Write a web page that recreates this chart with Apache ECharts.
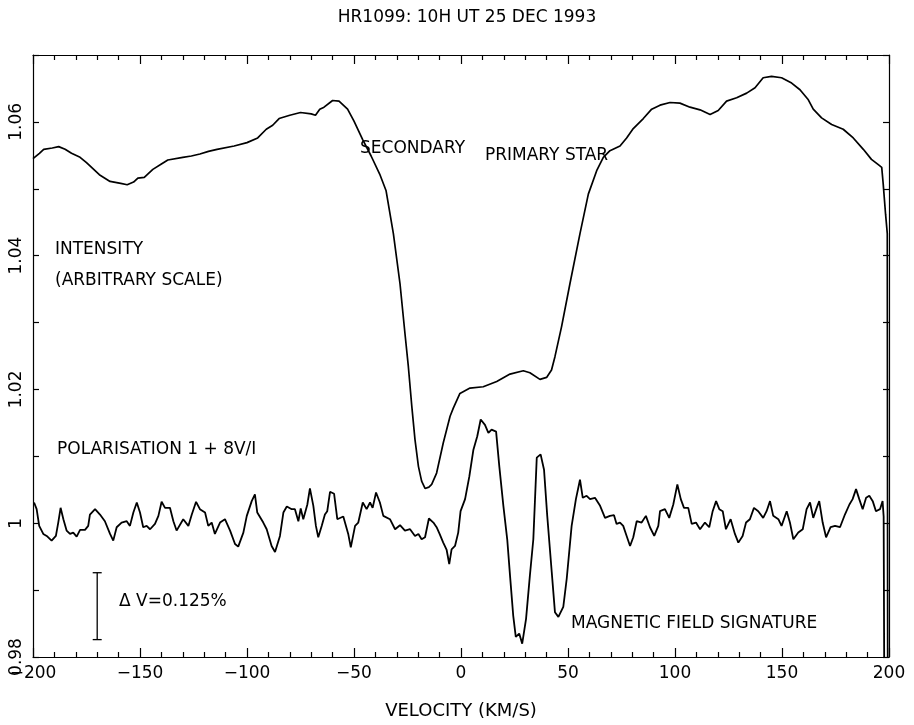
<!DOCTYPE html>
<html>
<head>
<meta charset="utf-8">
<script src="https://cdn.jsdelivr.net/npm/echarts@6/dist/echarts.min.js"></script>
<style>
  html, body { margin: 0; background: #fff; }
  #chart { width: 914px; height: 725px; }
</style>
</head>
<body>
<div id="chart"></div>
<script>
// intensity profile (arbitrary scale)
const intensityVel = [-200, -197, -195, -191, -188, -185, -182, -178, -175, -173, -169, -164, -159, -156, -153, -151, -148, -144, -140, -137,
  -130, -126, -122, -118, -114, -106, -100, -95, -91, -88, -85, -80, -75, -70, -68, -66, -64, -60, -57, -55,
  -53, -50, -46, -42, -38, -35, -31.6, -28.5, -26.2, -24.6, -23.0, -21.5, -19.9, -18.4, -16.8, -15, -13.7, -11.4, -8.3, -5.1,
  -3.6, -0.5, 4.2, 10.4, 16.7, 22.9, 29.1, 32.2, 36.9, 40.0, 42.3, 43.9, 47.0, 50.9, 55.6, 59.5, 63.4, 66.5, 69.6, 74.3,
  77.4, 80.5, 85.2, 89.1, 93.0, 97.7, 102.3, 107.0, 111.7, 116.4, 120.2, 124.1, 128.8, 133.5, 137.4, 141.2, 145.1, 149.8, 154.5, 158.4,
  162.3, 164.6, 168.5, 173.2, 178.6, 183.3, 188, 191.8, 195, 196.6, 197.3, 198.4, 199.2, 199.4];
const intensityVal = [1.0545, 1.0553, 1.0559, 1.0561, 1.0563, 1.0559, 1.0553, 1.0547, 1.0539, 1.0533, 1.0521, 1.0511, 1.0508, 1.0506, 1.0510, 1.0516, 1.0517, 1.0529, 1.0537, 1.0543,
  1.0547, 1.0549, 1.0552, 1.0556, 1.0559, 1.0564, 1.0569, 1.0576, 1.0589, 1.0595, 1.0605, 1.0610, 1.0614, 1.0612, 1.0610, 1.0619, 1.0622, 1.0632, 1.0631, 1.0625,
  1.0619, 1.0601, 1.0574, 1.0549, 1.0522, 1.0497, 1.0433, 1.0358, 1.0284, 1.0234, 1.0175, 1.0125, 1.0085, 1.0063, 1.0052, 1.0054, 1.0058, 1.0075, 1.0120, 1.0160,
  1.0172, 1.0194, 1.0202, 1.0204, 1.0212, 1.0223, 1.0228, 1.0225, 1.0215, 1.0218, 1.0229, 1.0249, 1.0294, 1.0358, 1.0433, 1.0492, 1.0527, 1.0547, 1.0557, 1.0564,
  1.0576, 1.0590, 1.0605, 1.0619, 1.0625, 1.0629, 1.0628, 1.0622, 1.0618, 1.0611, 1.0617, 1.0631, 1.0636, 1.0643, 1.0651, 1.0666, 1.0668, 1.0666, 1.0658, 1.0648,
  1.0633, 1.0619, 1.0606, 1.0596, 1.0589, 1.0576, 1.0559, 1.0544, 1.0536, 1.0532, 1.0507, 1.0462, 1.0433, 0.9750];

// polarisation 1 + 8V/I
const polarVel = [-199.5, -198.3, -197.1, -195.2, -193.6, -191.3, -189.3, -188.2, -187.1, -185.8, -184.3, -182.7, -181.2, -179.6, -178, -175.7, -174.2, -173.4, -171, -168.7,
  -166.4, -164, -162.5, -160.9, -158.6, -156.2, -154.7, -153.1, -151.5, -150, -148.5, -146.9, -145.3, -143, -141.4, -139.9, -138.3, -136, -134.4, -132.9,
  -129.8, -127.4, -125.8, -123.8, -122, -119.6, -118.1, -116.5, -115, -112.6, -110.3, -107.9, -105.6, -104.1, -101.7, -100.1, -97.8, -96.3, -95.2, -92.4,
  -90.8, -88.5, -86.9, -84.6, -83.0, -81.4, -79.1, -77.6, -76.0, -74.9, -73.7, -71.8, -70.6, -69.0, -67.8, -66.7, -65.1, -63.6, -62.5, -61.2,
  -59.3, -57.8, -55.0, -52.7, -51.5, -49.5, -48.0, -45.9, -44.1, -42.5, -41.3, -39.7, -37.9, -36.3, -33.2, -30.8, -28.5, -26.2, -23.8, -21.5,
  -19.9, -18.4, -16.8, -15.0, -12.9, -11.4, -10.0, -8.3, -6.7, -5.5, -4.4, -2.8, -1.3, -0.2, 1.9, 3.9, 5.8, 7.6, 9.2, 11.2,
  12.8, 14.3, 16.4, 17.9, 19.8, 21.6, 22.9, 24.4, 25.6, 27.2, 28.6, 30.4, 32.2, 33.8, 35.4, 37.2, 38.8, 40.3, 42.4, 43.9,
  45.5, 47.8, 49.4, 51.7, 53.7, 55.6, 56.9, 58.7, 60.3, 62.6, 65.0, 67.3, 69.6, 71.5, 72.7, 74.3, 75.8, 77.4, 79.0, 80.5,
  82.1, 84.4, 86.4, 88.3, 90.3, 92.2, 93.0, 95.3, 97.3, 99.2, 101.1, 102.7, 104.2, 106.2, 107.8, 109.8, 111.7, 114.0, 116.0, 117.6,
  119.2, 120.7, 122.3, 123.8, 126.0, 128.0, 129.6, 131.6, 133.2, 135.0, 136.9, 138.9, 141.2, 142.8, 144.4, 145.9, 148.3, 149.8, 152.2, 153.7,
  155.3, 157.6, 159.7, 161.5, 163.1, 164.6, 166.2, 167.4, 169.0, 170.6, 172.7, 174.8, 177.1, 179.4, 181.5, 183.0, 184.6, 186.1, 187.7, 189.3,
  190.8, 192.4, 193.9, 195.8, 197.0, 197.5, 197.8];
const polarVal = [1.0031, 1.0021, 0.9996, 0.9984, 0.9981, 0.9974, 0.9981, 1.0001, 1.0023, 1.0006, 0.9989, 0.9984, 0.9986, 0.9980, 0.9990, 0.9990, 0.9996, 1.0013, 1.0021, 1.0013,
  1.0003, 0.9984, 0.9974, 0.9994, 1.0001, 1.0003, 0.9996, 1.0016, 1.0031, 1.0016, 0.9994, 0.9996, 0.9991, 0.9999, 1.0011, 1.0032, 1.0023, 1.0023, 1.0003, 0.9989,
  1.0006, 0.9996, 1.0013, 1.0032, 1.0021, 1.0016, 0.9996, 1.0001, 0.9984, 1.0001, 1.0006, 0.9989, 0.9969, 0.9965, 0.9986, 1.0011, 1.0033, 1.0043, 1.0016, 1.0001,
  0.9991, 0.9966, 0.9957, 0.9981, 1.0016, 1.0025, 1.0021, 1.0021, 1.0003, 1.0022, 1.0006, 1.0028, 1.0052, 1.0026, 0.9996, 0.9979, 0.9996, 1.0013, 1.0018, 1.0047,
  1.0044, 1.0006, 1.0010, 0.9984, 0.9964, 0.9996, 1.0001, 1.0031, 1.0021, 1.0031, 1.0023, 1.0046, 1.0031, 1.0011, 1.0006, 0.9991, 0.9997, 0.9989, 0.9991, 0.9981,
  0.9984, 0.9976, 0.9979, 1.0007, 1.0001, 0.9994, 0.9984, 0.9971, 0.9960, 0.9939, 0.9961, 0.9966, 0.9986, 1.0018, 1.0036, 1.0070, 1.0110, 1.0130, 1.0155, 1.0147,
  1.0135, 1.0140, 1.0137, 1.0085, 1.0026, 0.9976, 0.9922, 0.9862, 0.9830, 0.9835, 0.9820, 0.9857, 0.9922, 0.9976, 1.0098, 1.0103, 1.0080, 1.0011, 0.9927, 0.9867,
  0.9860, 0.9875, 0.9917, 0.9996, 1.0036, 1.0065, 1.0038, 1.0041, 1.0036, 1.0038, 1.0026, 1.0008, 1.0011, 1.0012, 0.9999, 1.0001, 0.9996, 0.9981, 0.9966, 0.9979,
  1.0003, 1.0001, 1.0011, 0.9994, 0.9981, 0.9996, 1.0018, 1.0021, 1.0008, 1.0028, 1.0058, 1.0036, 1.0023, 1.0023, 0.9999, 1.0001, 0.9991, 1.0001, 0.9994, 1.0018,
  1.0033, 1.0021, 1.0018, 0.9991, 1.0006, 0.9984, 0.9971, 0.9981, 1.0001, 1.0006, 1.0023, 1.0018, 1.0008, 1.0018, 1.0033, 1.0011, 1.0006, 0.9996, 1.0018, 1.0001,
  0.9976, 0.9986, 0.9991, 1.0021, 1.0031, 1.0008, 1.0023, 1.0033, 1.0001, 0.9979, 0.9994, 0.9996, 0.9994, 1.0013, 1.0028, 1.0036, 1.0051, 1.0036, 1.0021, 1.0038,
  1.0041, 1.0033, 1.0018, 1.0021, 1.0033, 1.0010, 0.9750];

// scale bar: delta V = 0.125% (x8 -> 0.01)
const scaleBarVel = [-170];
const scaleBarLow = [0.9826];
const scaleBarHigh = [0.9926];

const yLabelValues = [0.98, 1.00, 1.02, 1.04, 1.06];

const FONT = 'DejaVu Sans';

function zip(a, b) {
  return a.map((v, i) => [v, b[i]]);
}

const chart = echarts.init(document.getElementById('chart'));

const tickStyle = { color: '#000', width: 1.2 };
const noteFont = '17px "DejaVu Sans"';

chart.setOption({
  backgroundColor: '#fff',
  animation: false,
  title: {
    text: 'HR1099: 10H UT 25 DEC 1993',
    left: 462,
    top: 4,
    textAlign: 'center',
    textStyle: { fontFamily: FONT, fontSize: 17, fontWeight: 'normal', color: '#000' }
  },
  grid: { left: 33, right: 25, top: 55, bottom: 67 },
  xAxis: [{
    type: 'value',
    min: -200,
    max: 200,
    interval: 50,
    name: 'VELOCITY (KM/S)',
    nameLocation: 'middle',
    nameGap: 45,
    nameTextStyle: { fontFamily: FONT, fontSize: 18, color: '#000' },
    axisLine: { show: true, onZero: false, lineStyle: tickStyle },
    axisTick: { inside: true, length: 9, lineStyle: tickStyle },
    minorTick: { show: true, splitNumber: 5, length: 5, lineStyle: tickStyle },
    splitLine: { show: false },
    axisLabel: {
      fontFamily: FONT, fontSize: 17, color: '#000', margin: 8,
      showMinLabel: true, showMaxLabel: true,
      formatter: v => String(v).replace('-', '\u2212')
    }
  }, {
    type: 'value',
    position: 'top',
    min: -200,
    max: 200,
    interval: 50,
    axisLine: { show: true, onZero: false, lineStyle: tickStyle },
    axisTick: { inside: true, length: 9, lineStyle: tickStyle },
    minorTick: { show: true, splitNumber: 5, length: 5, lineStyle: tickStyle },
    splitLine: { show: false },
    axisLabel: { show: false }
  }],
  yAxis: [{
    type: 'value',
    min: 0.98,
    max: 1.07,
    interval: 0.01,
    axisLine: { show: true, onZero: false, lineStyle: tickStyle },
    axisTick: { inside: true, length: 6, lineStyle: tickStyle },
    splitLine: { show: false },
    axisLabel: {
      fontFamily: FONT, fontSize: 17, color: '#000', rotate: 90, margin: 8,
      showMinLabel: true, showMaxLabel: true,
      formatter: v => {
        const hit = yLabelValues.find(t => Math.abs(t - v) < 1e-6);
        if (hit === undefined) return '';
        return hit === 1 ? '1' : hit.toFixed(2);
      }
    }
  }, {
    type: 'value',
    position: 'right',
    min: 0.98,
    max: 1.07,
    interval: 0.01,
    axisLine: { show: true, onZero: false, lineStyle: tickStyle },
    axisTick: { inside: true, length: 6, lineStyle: tickStyle },
    splitLine: { show: false },
    axisLabel: { show: false }
  }],
  series: [{
    name: 'Intensity',
    type: 'line',
    data: zip(intensityVel, intensityVal),
    showSymbol: false,
    clip: true,
    lineStyle: { color: '#000', width: 1.7 }
  }, {
    name: 'Polarisation',
    type: 'line',
    data: zip(polarVel, polarVal),
    showSymbol: false,
    clip: true,
    lineStyle: { color: '#000', width: 1.8 }
  }, {
    name: 'Scale bar',
    type: 'custom',
    data: scaleBarVel.map((v, i) => [v, scaleBarLow[i], scaleBarHigh[i]]),
    renderItem: (params, api) => {
      const lo = api.coord([api.value(0), api.value(1)]);
      const hi = api.coord([api.value(0), api.value(2)]);
      const w = 4.5;
      const style = { stroke: '#000', lineWidth: 1.3 };
      return {
        type: 'group',
        children: [
          { type: 'line', shape: { x1: lo[0], y1: lo[1], x2: hi[0], y2: hi[1] }, style },
          { type: 'line', shape: { x1: lo[0] - w, y1: lo[1], x2: lo[0] + w, y2: lo[1] }, style },
          { type: 'line', shape: { x1: hi[0] - w, y1: hi[1], x2: hi[0] + w, y2: hi[1] }, style }
        ]
      };
    }
  }],
  graphic: [
    { type: 'text', left: 360, top: 140, style: { text: 'SECONDARY', font: noteFont, fill: '#000' } },
    { type: 'text', left: 485, top: 147, style: { text: 'PRIMARY STAR', font: noteFont, fill: '#000' } },
    { type: 'text', left: 55, top: 241, style: { text: 'INTENSITY', font: noteFont, fill: '#000' } },
    { type: 'text', left: 55, top: 272, style: { text: '(ARBITRARY SCALE)', font: noteFont, fill: '#000' } },
    { type: 'text', left: 57, top: 441, style: { text: 'POLARISATION 1 + 8V/I', font: noteFont, fill: '#000' } },
    { type: 'text', left: 119, top: 593, style: { text: '\u0394 V=0.125%', font: noteFont, fill: '#000' } },
    { type: 'text', left: 571, top: 615, style: { text: 'MAGNETIC FIELD SIGNATURE', font: noteFont, fill: '#000' } }
  ]
});
</script>
</body>
</html>
